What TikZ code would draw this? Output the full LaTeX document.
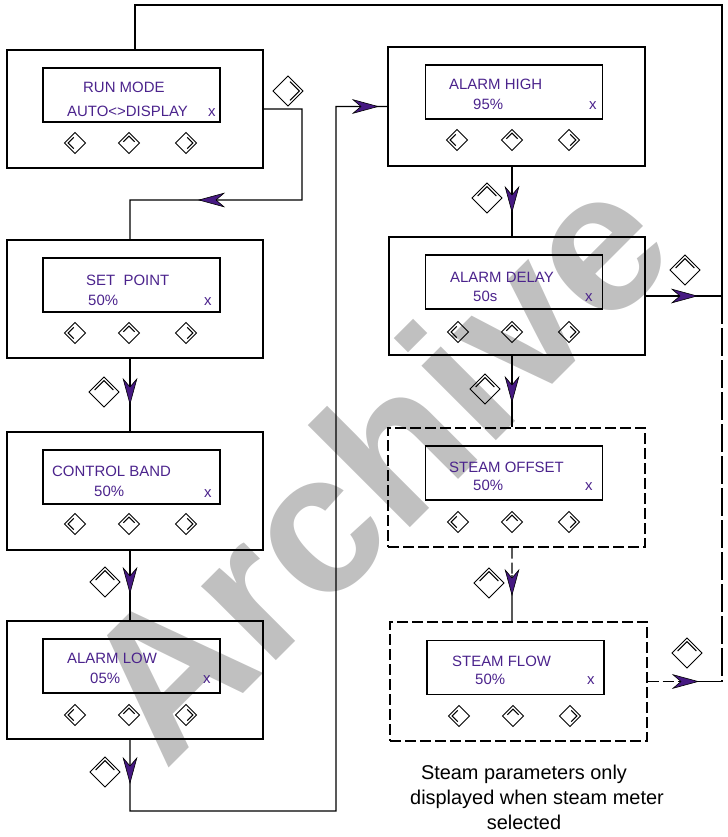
\documentclass[tikz,border=0pt]{standalone}
\usepackage{fontspec}
\setmainfont{Liberation Sans}
\usetikzlibrary{calc}
\definecolor{lcd}{RGB}{75,35,140}
\definecolor{ahfill}{RGB}{70,25,130}
\definecolor{wm}{RGB}{192,192,192}
\tikzset{
  outerbox/.style={draw, line width=1.2bp, minimum width=256bp, minimum height=118bp, inner sep=0pt},
  lcdbox/.style={draw, line width=1.2bp, minimum width=177bp, minimum height=54bp, inner sep=0pt},
  lcdtxt/.style={text=lcd, inner sep=0pt, anchor=base west, font=\fontsize{15}{18}\selectfont},
  conn/.style={line width=1.1bp},
  dashbox/.style={dash pattern=on 11bp off 4bp},
  longdash/.style={dash pattern=on 28bp off 4bp},
  caption/.style={inner sep=0pt, anchor=base, font=\fontsize{20}{25}\selectfont},
  pics/ahead/.style={code={
    \filldraw[fill=ahfill, draw=black, line width=0.6bp] (0,0) -- (-25,6.8) -- (-17,0) -- (-25,-6.8) -- cycle;
  }},
  pics/keyicon/.style n args={2}{code={
    \begin{scope}[rotate=#2, line width=1bp]
      \draw (#1,0) -- (0,#1) -- (-#1,0) -- (0,-#1) -- cycle;
      \pgfmathsetmacro{\ki}{#1-3.6}
      \draw ({-0.82*\ki},{0.18*\ki}) -- (0,\ki) -- ({0.82*\ki},{0.18*\ki});
    \end{scope}
  }}
}
\begin{document}
\begin{tikzpicture}[x=1bp,y=1bp]
\useasboundingbox (0,0) rectangle (728,-837);

% watermark
\node[text=wm, inner sep=0pt, anchor=base west, rotate=45, font=\fontsize{200}{200}\selectfont\bfseries] (wmark) at (165,-772) {Archive};

% ---------- left column ----------
\node[outerbox] (b1) at (135,-109) {};
\node[lcdbox] (d1) at (131.5,-95) {};
\node[lcdtxt] (t1a) at (83,-92) {RUN MODE};
\node[lcdtxt] (t1b) at (67,-116) {AUTO<>DISPLAY};
\node[lcdtxt] (t1x) at (208,-116) {x};
\pic at (75,-143) {keyicon={10.5}{90}};
\pic at (129,-143) {keyicon={10.5}{0}};
\pic at (186,-143) {keyicon={10.5}{-90}};

\node[outerbox] (b2) at (135,-299) {};
\node[lcdbox] (d2) at (131.5,-285) {};
\node[lcdtxt] (t2a) at (86,-285) {SET\ \ POINT};
\node[lcdtxt] (t2b) at (88,-305) {50\%};
\node[lcdtxt] (t2x) at (204,-305) {x};
\pic at (75,-333) {keyicon={10.5}{90}};
\pic at (129,-333) {keyicon={10.5}{0}};
\pic at (186,-333) {keyicon={10.5}{-90}};

\node[outerbox] (b3) at (135,-491) {};
\node[lcdbox] (d3) at (131.5,-477) {};
\node[lcdtxt] (t3a) at (52,-476) {CONTROL BAND};
\node[lcdtxt] (t3b) at (94,-496) {50\%};
\node[lcdtxt] (t3x) at (204,-497) {x};
\pic at (75,-524) {keyicon={10.5}{90}};
\pic at (129,-524) {keyicon={10.5}{0}};
\pic at (186,-524) {keyicon={10.5}{-90}};

\node[outerbox] (b4) at (135,-680) {};
\node[lcdbox] (d4) at (131.5,-666) {};
\node[lcdtxt] (t4a) at (67,-663) {ALARM LOW};
\node[lcdtxt] (t4b) at (90,-683) {05\%};
\node[lcdtxt] (t4x) at (203,-683) {x};
\pic at (75,-715) {keyicon={10.5}{90}};
\pic at (129,-715) {keyicon={10.5}{0}};
\pic at (186,-715) {keyicon={10.5}{-90}};

% ---------- right column ----------
\node[outerbox, minimum width=257bp, minimum height=119bp] (b5) at (516.5,-106.5) {};
\node[lcdbox] (d5) at (514,-92) {};
\node[lcdtxt] (t5a) at (449,-89) {ALARM HIGH};
\node[lcdtxt] (t5b) at (473,-109) {95\%};
\node[lcdtxt] (t5x) at (589,-109) {x};
\pic at (457,-140) {keyicon={10.5}{90}};
\pic at (512,-140) {keyicon={10.5}{0}};
\pic at (569,-140) {keyicon={10.5}{-90}};

\node[outerbox, minimum width=256bp] (b6) at (517,-296) {};
\node[lcdbox] (d6) at (514,-282) {};
\node[lcdtxt] (t6a) at (450,-282) {ALARM DELAY};
\node[lcdtxt] (t6b) at (473,-301) {50s};
\node[lcdtxt] (t6x) at (585,-301) {x};
\pic at (458,-332) {keyicon={10.5}{90}};
\pic at (512,-332) {keyicon={10.5}{0}};
\pic at (569,-332) {keyicon={10.5}{-90}};

\node[outerbox, dashbox, minimum width=257bp, minimum height=119bp] (b7) at (516.5,-487.5) {};
\node[lcdbox] (d7) at (514,-473) {};
\node[lcdtxt] (t7a) at (449,-472) {STEAM OFFSET};
\node[lcdtxt] (t7b) at (473,-490) {50\%};
\node[lcdtxt] (t7x) at (585,-490) {x};
\pic at (458,-522) {keyicon={10.5}{90}};
\pic at (512,-522) {keyicon={10.5}{0}};
\pic at (569,-522) {keyicon={10.5}{-90}};

\node[outerbox, dashbox, minimum width=257bp, minimum height=119bp] (b8) at (518.5,-681.5) {};
\node[lcdbox] (d8) at (515.5,-667.5) {};
\node[lcdtxt] (t8a) at (452,-666) {STEAM FLOW};
\node[lcdtxt] (t8b) at (475,-684) {50\%};
\node[lcdtxt] (t8x) at (587,-684) {x};
\pic at (459,-716) {keyicon={10.5}{90}};
\pic at (513,-716) {keyicon={10.5}{0}};
\pic at (570,-716) {keyicon={10.5}{-90}};

% ---------- connectors ----------
\coordinate (tl) at (135,-5);
\coordinate (tr) at (722,-5);
\coordinate (r6) at (722,-296);
\coordinate (r8) at (722,-681.5);
\coordinate (a8) at (697,-681.5);
\coordinate (l1a) at (302,-109);
\coordinate (l1b) at (302,-200);
\coordinate (l1c) at (130,-200);
\coordinate (l4a) at (130,-811);
\coordinate (l4b) at (336,-811);
\coordinate (l4c) at (336,-106.5);
\coordinate (m78) at (512,-575);

\draw[conn] (b1.north) -- (tl) -- (tr) -- (r6);
\draw[conn, longdash] (r6) -- (r8);
\draw[conn] (b6.east) -- (r6);
\draw[conn, dashbox] (b8.east) -- (a8);
\draw[conn] (a8) -- (r8);
\draw[conn] (b1.east) -- (l1a) -- (l1b) -- (l1c) -- ([xshift=-5bp]b2.north);
\draw[conn] ([xshift=-5bp]b2.south) -- ([xshift=-5bp]b3.north);
\draw[conn] ([xshift=-5bp]b3.south) -- ([xshift=-5bp]b4.north);
\draw[conn] ([xshift=-5bp]b4.south) -- (l4a) -- (l4b) -- (l4c) -- (b5.west);
\draw[conn] ([xshift=-4.5bp]b5.south) -- ([xshift=-5bp]b6.north);
\draw[conn] ([xshift=-5bp]b6.south) -- ([xshift=-4.5bp]b7.north);
\draw[conn, dashbox] ([xshift=-4.5bp]b7.south) -- (m78);
\draw[conn] (m78) -- ([xshift=-6.5bp]b8.north);

% arrowheads
\pic[rotate=180] at (199,-200) {ahead};
\pic[rotate=-90] at (130,-404) {ahead};
\pic[rotate=-90] at (130,-593) {ahead};
\pic[rotate=-90] at (130,-783) {ahead};
\pic at (378,-106.5) {ahead};
\pic[rotate=-90] at (512,-212) {ahead};
\pic[rotate=-90] at (512,-402) {ahead};
\pic[rotate=-90] at (512,-595) {ahead};
\pic at (697,-296) {ahead};
\pic at (698,-681.5) {ahead};

% big key icons beside connectors
\pic at (288,-91) {keyicon={15}{-90}};
\pic at (104,-392) {keyicon={15}{0}};
\pic at (105,-582) {keyicon={15}{0}};
\pic at (105,-772) {keyicon={15}{0}};
\pic at (487,-198) {keyicon={15}{0}};
\pic at (485,-389) {keyicon={15}{0}};
\pic at (489,-583) {keyicon={15}{0}};
\pic at (685,-270) {keyicon={15}{0}};
\pic at (687,-653) {keyicon={15}{0}};

% caption
\node[caption] (c1) at (524,-779) {Steam parameters only};
\node[caption] (c2) at (537,-804) {displayed when steam meter};
\node[caption] (c3) at (524,-829) {selected};
\end{tikzpicture}
\end{document}
